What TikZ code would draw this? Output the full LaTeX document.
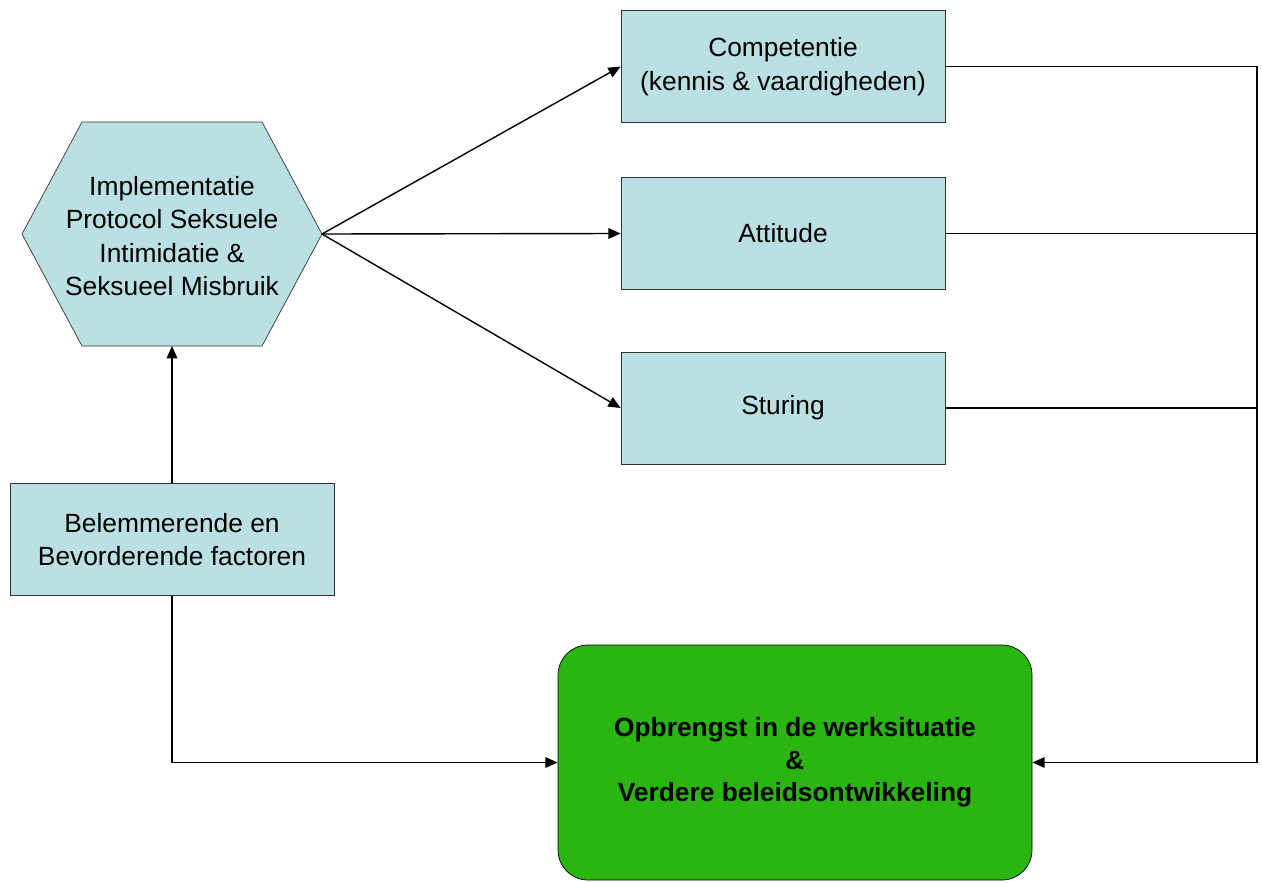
\documentclass[tikz,border=0pt]{standalone}
\usepackage{fontspec}
\setmainfont{Liberation Sans}
\usetikzlibrary{arrows.meta}
\definecolor{boxblue}{RGB}{187,224,227}
\definecolor{resgreen}{RGB}{42,181,16}

\begin{document}
\begin{tikzpicture}[>={Triangle[length=7pt,width=6pt]}, font=\fontsize{15}{19}\selectfont]
    \tikzstyle{every node}=[align=center]
    \tikzstyle{factor}=[rectangle,draw=black!80,fill=boxblue,minimum width=6.48cm,minimum height=2.24cm,inner sep=0pt]
    \tikzstyle{hexa}=[draw=black!80,fill=boxblue]
    \tikzstyle{result}=[rectangle,rounded corners=0.6cm,draw=black,fill=resgreen,minimum width=9.48cm,minimum height=4.7cm,font=\fontsize{15}{18.5}\selectfont\bfseries]
    \tikzstyle{link}=[draw=black,line width=0.8pt]

    \useasboundingbox (0,0) rectangle (25.24,-17.64);

    % the protocol hexagon
    \draw[hexa] (0.44,-4.68) -- (1.64,-2.44) -- (5.24,-2.44) -- (6.44,-4.68)
        -- (5.24,-6.92) -- (1.64,-6.92) -- cycle;
    \node (P) at (3.44,-4.72) {Implementatie\\Protocol Seksuele\\Intimidatie \&\\Seksueel Misbruik};
    \coordinate (P-tip) at (6.44,-4.68);
    \coordinate (P-base) at (3.44,-6.92);

    % the three outcomes
    \node[factor] (C) at (15.66,-1.33) {Competentie\\(kennis \& vaardigheden)};
    \node[factor] (A) at (15.66,-4.67) {Attitude};
    \node[factor] (S) at (15.66,-8.16) {Sturing};

    % factors and result
    \node[factor] (B) at (3.44,-10.79) {Belemmerende en\\Bevorderende factoren};
    \node[result] (R) at (15.9,-15.25) {Opbrengst in de werksituatie\\\&\\Verdere beleidsontwikkeling};
    \coordinate (corner) at (25.14,-1.33);

    % arrows out of the protocol
    \foreach \dest in {C,A,S}
        \draw[link,->] (P-tip) -- (\dest.west);

    \draw[link,->] (B.north) -- (P-base);
    \draw[link,->] (B.south) |- (R.west);

    % feedback line on the right
    \draw[link,->] (C.east) -- (corner) |- (R.east);
    \draw[link] (A.east) -- (A.east -| corner);
    \draw[link] (S.east) -- (S.east -| corner);
\end{tikzpicture}
\end{document}
